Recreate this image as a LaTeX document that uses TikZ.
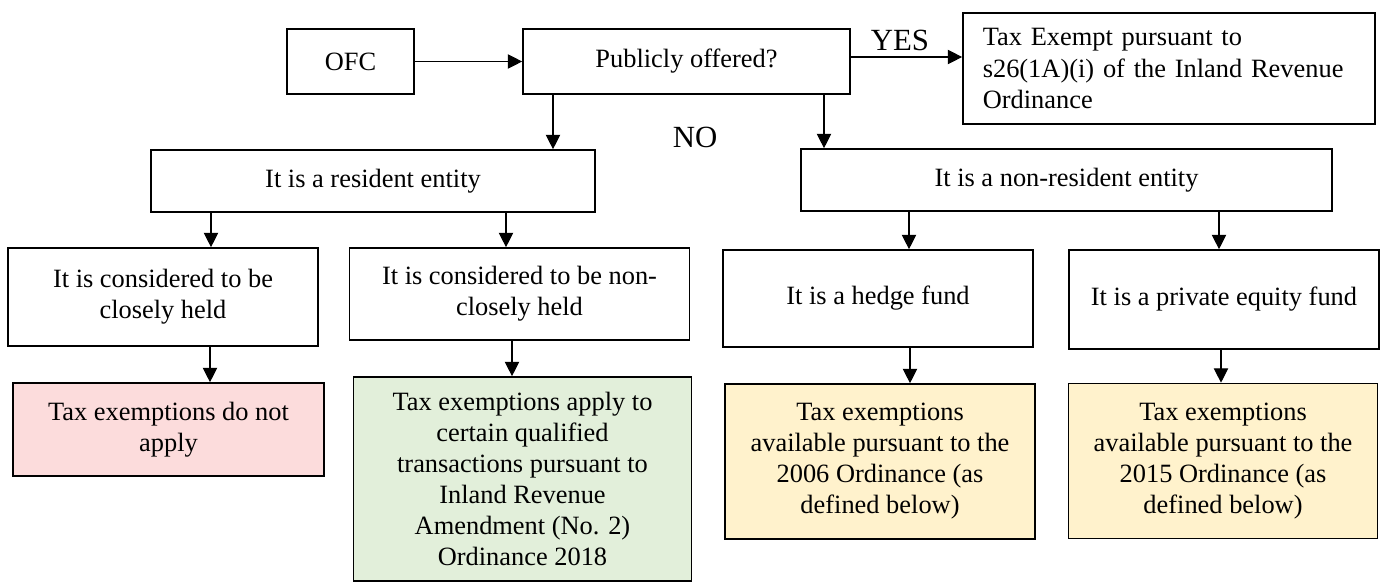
\documentclass[tikz,border=0pt]{standalone}
\usepackage{fontspec}
\setmainfont{Liberation Serif}
\usetikzlibrary{arrows.meta}
\definecolor{redfill}{HTML}{FCDCDC}
\definecolor{greenfill}{HTML}{E2EFDA}
\definecolor{yellowfill}{HTML}{FFF2CC}
\begin{document}
\begin{tikzpicture}[x=0.454545pt,y=-0.454545pt,
  box/.style={draw,line width=0.75pt,rectangle,inner sep=0pt,align=center,
    font=\fontsize{12}{14.1}\selectfont},
  arr/.style={line width=0.5pt,-{Triangle[length=6.5pt,width=6.5pt]}},
  lab/.style={font=\fontsize{14}{16}\selectfont,anchor=base,inner sep=0pt}]
\useasboundingbox (0,0) rectangle (1381,583);

% top row
\node[box,minimum width=57.73pt,minimum height=29.55pt] (OFC) at (350.5,61.5) {OFC};
\node[box,minimum width=148.64pt,minimum height=29.55pt] (PO) at (686.5,61.5) {Publicly offered?};
\node[box,minimum width=187.27pt,minimum height=50.45pt,text width=169.3pt,align=left,inner xsep=9pt] (TE) at (1169,68.5)
  {Tax Exempt pursuant to\\ s26(1A)(i) of the Inland Revenue\\ Ordinance};

% second row
\node[box,minimum width=201.82pt,minimum height=28.18pt] (RES) at (373,181) {It is a resident entity};
\node[box,minimum width=241.36pt,minimum height=28.18pt] (NRES) at (1066.5,180) {It is a non-resident entity};

% third row
\node[box,minimum width=140.91pt,minimum height=44.55pt] (CH) at (163,297) {It is considered to be\\ closely held};
\node[box,minimum width=154.55pt,minimum height=41.82pt] (NCH) at (519.5,294) {It is considered to be non-\\ closely held};
\node[box,minimum width=140.91pt,minimum height=44.09pt] (HF) at (878,298.5) {It is a hedge fund};
\node[box,minimum width=140.91pt,minimum height=45pt] (PE) at (1224,299.5) {It is a private equity fund};

% bottom row
\node[box,fill=redfill,minimum width=141.36pt,minimum height=42.27pt] (RED) at (168.5,429.5) {Tax exemptions do not\\ apply};
\node[box,fill=greenfill,minimum width=153.64pt,minimum height=92.73pt] (GRN) at (522.5,479) {Tax exemptions apply to\\ certain qualified\\ transactions pursuant to\\ Inland Revenue\\ Amendment (No. 2)\\ Ordinance 2018};
\node[box,fill=yellowfill,minimum width=140.91pt,minimum height=70.45pt] (YH) at (880,461.5) {Tax exemptions\\ available pursuant to the\\ 2006 Ordinance (as\\ defined below)};
\node[box,fill=yellowfill,minimum width=140.45pt,minimum height=70.45pt] (YP) at (1223,461) {Tax exemptions\\ available pursuant to the\\ 2015 Ordinance (as\\ defined below)};

% labels
\node[lab] (YES) at (900,50) {YES};
\node[lab] (NO) at (695,147) {NO};

% helper coordinates for connector positions
\coordinate (yyes) at (0,57);
\coordinate (x1) at (553,0);
\coordinate (x2) at (824,0);
\coordinate (x3) at (211,0);
\coordinate (x4) at (506,0);
\coordinate (x5) at (909,0);
\coordinate (x6) at (1219,0);
\coordinate (x7) at (210,0);
\coordinate (x8) at (512,0);
\coordinate (x9) at (910,0);
\coordinate (x10) at (1221,0);

% connectors
\draw[arr] (OFC.east) -- (PO.west);
\draw[arr] (PO.east |- yyes) -- (TE.west |- yyes);
\draw[arr] (x1 |- PO.south) -- (x1 |- RES.north);
\draw[arr] (x2 |- PO.south) -- (x2 |- NRES.north);
\draw[arr] (x3 |- RES.south) -- (x3 |- CH.north);
\draw[arr] (x4 |- RES.south) -- (x4 |- NCH.north);
\draw[arr] (x5 |- NRES.south) -- (x5 |- HF.north);
\draw[arr] (x6 |- NRES.south) -- (x6 |- PE.north);
\draw[arr] (x7 |- CH.south) -- (x7 |- RED.north);
\draw[arr] (x8 |- NCH.south) -- (x8 |- GRN.north);
\draw[arr] (x9 |- HF.south) -- (x9 |- YH.north);
\draw[arr] (x10 |- PE.south) -- (x10 |- YP.north);
\end{tikzpicture}
\end{document}
